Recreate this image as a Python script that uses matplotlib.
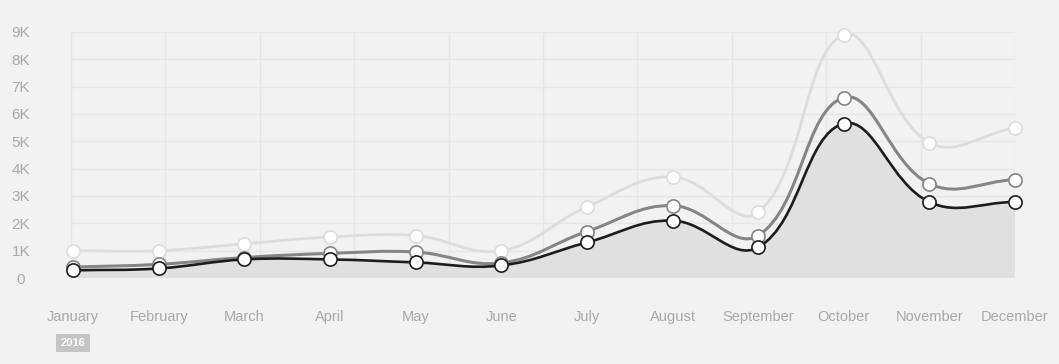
import numpy as np
import matplotlib
matplotlib.use("Agg")
import matplotlib.pyplot as plt
from matplotlib.path import Path
from matplotlib.patches import PathPatch

months = ["January", "February", "March", "April", "May", "June", "July",
          "August", "September", "October", "November", "December"]
light = [1000, 1000, 1250, 1500, 1550, 1000, 2600, 3700, 2400, 8900, 4950, 5500]
mid = [400, 500, 750, 900, 950, 550, 1700, 2650, 1550, 6600, 3450, 3600]
dark = [280, 350, 680, 680, 570, 460, 1300, 2100, 1120, 5650, 2780, 2780]
ytick_vals = list(range(0, 10000, 1000))
ytick_labels = ["0"] + ["%dK" % (v // 1000) for v in ytick_vals[1:]]
year = "2016"

BG = "#f2f2f2"
plt.rcParams["font.family"] = ["Liberation Sans", "DejaVu Sans"]

fig = plt.figure(figsize=(10.59, 3.64), dpi=100, facecolor=BG)
ax = fig.add_axes([71 / 1059, (364 - 278) / 364, (1015 - 71) / 1059, 246 / 364])
ax.set_facecolor(BG)
x = np.arange(len(months))
ax.set_xlim(-0.025, len(months) - 1)
ax.set_ylim(0, 9000)


def bezier_path(xs, ys, tension=0.4):
    # chart.js style spline, computed in pixel space
    pts = ax.transData.transform(np.column_stack([xs, ys]))
    n = len(pts)
    cp_prev, cp_next = [], []
    for i in range(n):
        p0 = pts[max(i - 1, 0)]
        p1 = pts[i]
        p2 = pts[min(i + 1, n - 1)]
        d01 = np.hypot(*(p1 - p0))
        d12 = np.hypot(*(p2 - p1))
        tot = d01 + d12
        s01 = d01 / tot if tot else 0
        s12 = d12 / tot if tot else 0
        cp_prev.append(p1 - tension * s01 * (p2 - p0))
        cp_next.append(p1 + tension * s12 * (p2 - p0))
    verts = [pts[0]]
    codes = [Path.MOVETO]
    for i in range(n - 1):
        verts += [cp_next[i], cp_prev[i + 1], pts[i + 1]]
        codes += [Path.CURVE4] * 3
    inv = ax.transData.inverted()
    return inv.transform(np.array(verts)), codes


# grid
for v in ytick_vals:
    ax.axhline(v, color="#e6e6e6", lw=1.0, zorder=0)
for gx in np.linspace(-0.025, len(months) - 1, 11):
    ax.axvline(gx, color="#e6e6e6", lw=1.0, zorder=0)

# area under dark series
verts, codes = bezier_path(x, dark)
fill_verts = np.vstack([verts, [[x[-1], 0], [x[0], 0], verts[0]]])
fill_codes = codes + [Path.LINETO, Path.LINETO, Path.CLOSEPOLY]
ax.add_patch(PathPatch(Path(fill_verts, fill_codes), facecolor="#e0e0e0",
                       edgecolor="none", zorder=1))

for data, col, lw, z in [(light, "#dcdcdc", 2.0, 2), (mid, "#858585", 2.2, 3),
                         (dark, "#1c1c1c", 1.9, 4)]:
    v, c = bezier_path(x, data)
    ax.add_patch(PathPatch(Path(v, c), facecolor="none", edgecolor=col,
                           lw=lw, zorder=z, clip_on=False))
    ax.plot(x, data, ls="none", marker="o", ms=9.5, mfc="white", mec=col,
            mew=1.2, zorder=z + 0.5, clip_on=False)

for s in ax.spines.values():
    s.set_visible(False)
ax.set_xticks(x)
ax.set_xticklabels(months)
ax.set_yticks(ytick_vals)
ax.set_yticklabels(ytick_labels)
ax.tick_params(axis="both", length=0, colors="#a8a8a8", labelsize=10.5)
ax.tick_params(axis="x", pad=23)
ax.tick_params(axis="y", labelsize=11, pad=36)
for lab in ax.get_yticklabels():
    lab.set_horizontalalignment("center")

fig.text(73 / 1059, 1 - 343 / 364, year, ha="center", va="center",
         fontsize=8, fontweight="bold", color="white",
         bbox=dict(boxstyle="square,pad=0.4", fc="#c4c4c4", ec="none"))

fig.savefig("out.png", dpi=100, facecolor=BG)
